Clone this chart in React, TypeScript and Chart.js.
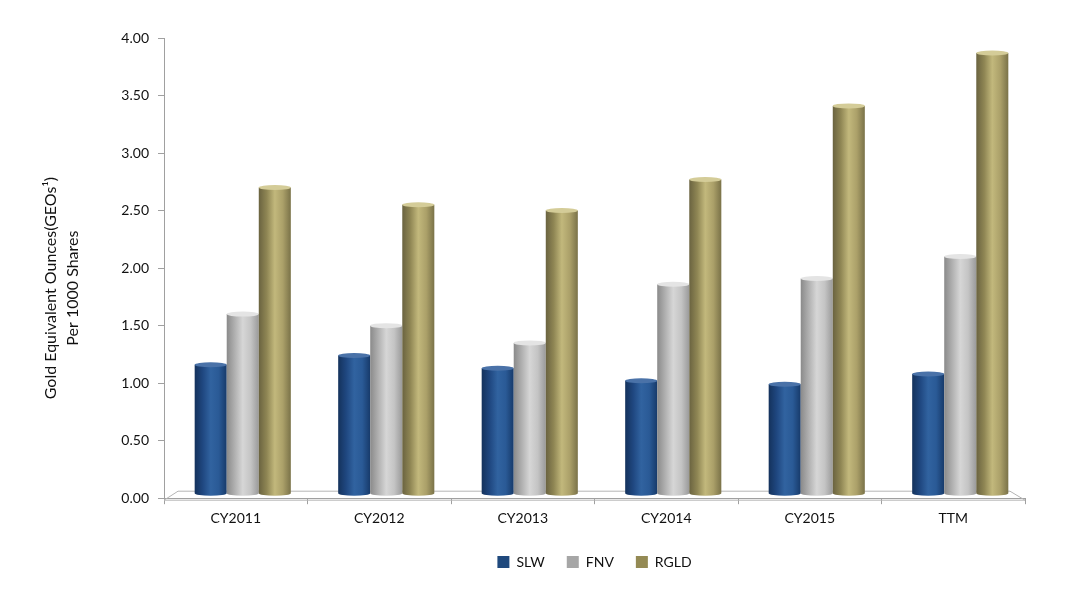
import React, { useEffect, useRef } from 'react';
import { Chart, registerables } from 'chart.js';

Chart.register(...registerables);

const categories = ['CY2011', 'CY2012', 'CY2013', 'CY2014', 'CY2015', 'TTM'];
const slwValues = [1.16, 1.24, 1.13, 1.02, 0.99, 1.08];
const fnvValues = [1.60, 1.50, 1.35, 1.86, 1.91, 2.10];
const rgldValues = [2.70, 2.55, 2.50, 2.77, 3.41, 3.87];
const seriesNames = ['SLW', 'FNV', 'RGLD'];
const yTitleLines = ['Gold Equivalent Ounces(GEOs\u00B9)', 'Per 1000 Shares'];

const FONT = 'Lato, "Open Sans", sans-serif';
const DEPTH_SHIFT = 7;

const baseColors = ['#1F497D', '#A6A6A6', '#948A54'];
const gradientStops: string[][] = [
  ['#14325c', '#1f4780', '#3163a0', '#2a5a96', '#173a6a'],
  ['#8a8a8a', '#b0b0b0', '#d6d6d6', '#c4c4c4', '#9a9a9a'],
  ['#6a6340', '#8f8654', '#c2b87c', '#aba069', '#7a7248'],
];
const topColors = ['#4a72a8', '#e4e4e4', '#d4cc98'];

const cylinderPlugin = {
  id: 'cylinder',
  afterLayout(chart: any) {
    if (chart.legend) {
      chart.legend.left = chart.chartArea.left;
    }
  },
  beforeDatasetsDraw(chart: any) {
    const { ctx, chartArea } = chart;
    const { left, right, bottom } = chartArea;
    ctx.save();
    ctx.strokeStyle = '#b5b5b5';
    ctx.lineWidth = 1;
    ctx.beginPath();
    ctx.moveTo(left, bottom + 2);
    ctx.lineTo(left + 14, bottom - 7);
    ctx.lineTo(right - 15, bottom - 7);
    ctx.lineTo(right, bottom + 2);
    ctx.lineTo(left, bottom + 2);
    ctx.stroke();
    ctx.restore();
  },
  beforeDatasetDraw() {
    return false;
  },
  afterDatasetsDraw(chart: any) {
    const { ctx } = chart;
    chart.data.datasets.forEach((ds: any, di: number) => {
      const meta = chart.getDatasetMeta(di);
      if (meta.hidden || !chart.isDatasetVisible(di)) return;
      meta.data.forEach((el: any) => {
        const props = el.getProps(['x', 'y', 'base', 'width'], true);
        const x = props.x + DEPTH_SHIFT;
        const { y, base, width } = props;
        const l = x - width / 2;
        const r = x + width / 2;
        const g = ctx.createLinearGradient(l, 0, r, 0);
        const stops = gradientStops[di];
        stops.forEach((c, i) => g.addColorStop(i / (stops.length - 1), c));
        const eh = 2.5;
        const b = base - 2;
        ctx.save();
        ctx.fillStyle = g;
        ctx.beginPath();
        ctx.moveTo(l, y);
        ctx.lineTo(l, b - eh);
        ctx.ellipse(x, b - eh, width / 2, eh, 0, Math.PI, 0, true);
        ctx.lineTo(r, y);
        ctx.closePath();
        ctx.fill();
        ctx.fillStyle = topColors[di];
        ctx.beginPath();
        ctx.ellipse(x, y, width / 2, eh, 0, 0, Math.PI * 2);
        ctx.fill();
        ctx.restore();
      });
    });
  },
};

const yTitlePlugin = {
  id: 'yTitle',
  afterDraw(chart: any) {
    const { ctx, chartArea } = chart;
    const cy = (chartArea.top + chartArea.bottom) / 2 + 20;
    ctx.save();
    ctx.fillStyle = '#111';
    ctx.font = `16px ${FONT}`;
    ctx.textAlign = 'center';
    ctx.textBaseline = 'middle';
    const xs = [51, 73];
    yTitleLines.forEach((line, i) => {
      ctx.save();
      ctx.translate(xs[i], cy);
      ctx.rotate(-Math.PI / 2);
      ctx.fillText(line, 0, 0);
      ctx.restore();
    });
    ctx.restore();
  },
};

export default function App() {
  const canvasRef = useRef<HTMLCanvasElement | null>(null);

  useEffect(() => {
    if (!canvasRef.current) return;
    const chart = new Chart(canvasRef.current, {
      type: 'bar',
      data: {
        labels: categories,
        datasets: [
          { label: seriesNames[0], data: slwValues, backgroundColor: baseColors[0] },
          { label: seriesNames[1], data: fnvValues, backgroundColor: baseColors[1] },
          { label: seriesNames[2], data: rgldValues, backgroundColor: baseColors[2] },
        ],
      },
      options: {
        responsive: true,
        maintainAspectRatio: false,
        animation: false,
        datasets: {
          bar: { categoryPercentage: 0.67, barPercentage: 1.0 },
        },
        layout: { padding: { top: 38, right: 40, bottom: 14, left: 0 } },
        plugins: {
          legend: {
            position: 'bottom',
            labels: {
              boxWidth: 12,
              boxHeight: 12,
              padding: 22,
              color: '#111',
              font: { family: FONT, size: 14 },
            },
          },
          tooltip: { enabled: false },
          title: { display: false },
        },
        scales: {
          x: {
            grid: {
              display: true,
              drawOnChartArea: false,
              drawTicks: true,
              tickLength: 6,
              color: '#a0a0a0',
              offset: true,
            },
            border: { display: true, color: '#a0a0a0' },
            ticks: {
              color: '#111',
              font: { family: FONT, size: 14 },
              padding: 6,
            },
          },
          y: {
            min: 0,
            max: 4,
            afterFit: (scale: any) => {
              scale.width = 164;
            },
            grid: {
              display: true,
              drawOnChartArea: false,
              drawTicks: true,
              tickLength: 6,
              color: '#a0a0a0',
            },
            border: { display: true, color: '#a0a0a0' },
            ticks: {
              stepSize: 0.5,
              color: '#111',
              font: { family: FONT, size: 14 },
              padding: 9,
              callback: (v: any) => Number(v).toFixed(2),
            },
          },
        },
      },
      plugins: [cylinderPlugin, yTitlePlugin],
    });
    return () => chart.destroy();
  }, []);

  return (
    <div style={{ position: 'fixed', left: 0, top: 0, width: 1065, height: 593, background: '#fff' }}>
      <canvas ref={canvasRef} />
    </div>
  );
}
